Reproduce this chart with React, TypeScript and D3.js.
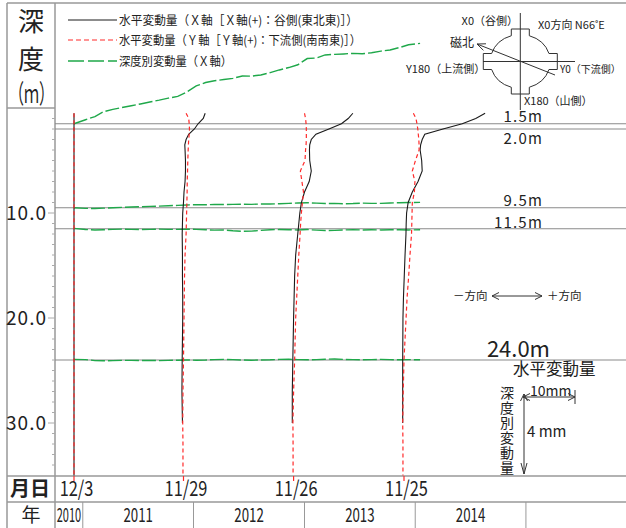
import React from 'react'
import * as d3 from 'd3'

const FONT = "'Noto Sans CJK JP', 'Noto Sans', sans-serif"

// survey dates of the inclinometer profiles
const surveyDates = ['2010-12-03', '2011-11-29', '2012-11-26', '2013-11-25']
const surveyLabels = ['12/3', '11/29', '11/26', '11/25']
const years = ['2010', '2011', '2012', '2013', '2014']

// depth (m) of profile readings
const depths = [0.5, 1, 1.5, 2, 2.5, 3, 3.5, 4, 5, 6, 7, 8, 9, 10, 11, 12, 14, 16, 18, 20, 24, 27, 30, 32, 35]

// horizontal displacement X (mm), null = no reading
const xDisp2010 = [0, 0, 0, 0, 0, 0, 0, 0, 0, 0, 0, 0, 0, 0, 0, 0, 0, 0, 0, 0, 0, 0, 0, 0, 0]
const xDisp2011 = [4.17, 3.8, 2.8, 2.1, 1.0, 0.5, 0.25, 0.3, 0.38, 0.38, 0.3, 0.1, 0, -0.15, -0.2, -0.25, -0.2, -0.2, -0.15, -0.15, -0.25, -0.3, -0.2, null, null]
const xDisp2012 = [11.4, 10.5, 9.2, 6.8, 4.3, 3.4, 3.1, 3.05, 3.1, 3.4, 3.0, 2.1, 1.5, 1.2, 1.0, 0.8, 0.4, 0.2, 0.1, 0, -0.15, -0.25, -0.25, null, null]
const xDisp2013 = [15.6, 13.8, 11.2, 7.5, 4.0, 3.5, 3.2, 3.1, 3.4, 3.5, 2.7, 1.6, 0.8, 0.5, 0.42, 0.38, 0.2, 0.05, -0.1, -0.2, -0.25, -0.25, -0.25, null, null]

// horizontal displacement Y (mm)
const yDisp2010 = [0, 0, 0, 0, 0, 0, 0, 0, 0, 0, 0, 0, 0, 0, 0, 0, 0, 0, 0, 0, 0, 0, 0, 0, 0]
const yDisp2011 = [0.5, 1.0, 1.1, 1.15, 1.1, 1.0, 0.95, 0.9, 0.83, 0.78, 0.72, 0.7, 0.65, 0.6, 0.55, 0.5, 0.3, 0.2, 0.15, 0.1, 0, -0.1, -0.15, -0.1, -0.1]
const yDisp2012 = [2.1, 2.3, 2.4, 2.45, 2.45, 2.45, 2.4, 2.3, 2.2, 1.3, 1.6, 1.9, 1.7, 1.5, 1.35, 1.25, 1.0, 0.8, 0.6, 0.4, 0.2, 0, -0.13, -0.1, -0.1]
const yDisp2013 = [1.8, 2.3, 2.5, 2.65, 2.75, 2.85, 2.9, 2.9, 2.2, 1.6, 2.1, 2.0, 1.6, 1.55, 1.5, 1.45, 1.15, 0.9, 0.6, 0.4, 0, -0.15, -0.25, -0.2, -0.2]

const xProfiles = [xDisp2010, xDisp2011, xDisp2012, xDisp2013]
const yProfiles = [yDisp2010, yDisp2011, yDisp2012, yDisp2013]

// monthly readings of depth-specific displacement (X axis)
const monthlyDates = [
  '2010-12-03', '2011-01-10', '2011-02-10', '2011-03-10', '2011-04-10', '2011-05-10', '2011-06-10',
  '2011-07-10', '2011-08-10', '2011-09-10', '2011-10-10', '2011-11-10', '2011-12-10', '2012-01-10',
  '2012-02-10', '2012-03-10', '2012-04-10', '2012-05-10', '2012-06-10', '2012-07-10', '2012-08-10',
  '2012-09-10', '2012-10-10', '2012-11-10', '2012-12-10', '2013-01-10', '2013-02-10', '2013-03-10',
  '2013-04-10', '2013-05-10', '2013-06-10', '2013-07-10', '2013-08-10', '2013-09-10', '2013-10-10',
  '2013-11-10', '2013-12-10', '2014-01-17',
]
const depth15 = [0, 0.2, 0.36, 0.6, 0.72, 0.81, 0.9, 0.99, 1.09, 1.18, 1.28, 1.37, 1.59, 1.89, 2.06, 2.15, 2.21, 2.27, 2.39, 2.38, 2.44, 2.56, 2.69, 2.81, 2.95, 3.26, 3.29, 3.44, 3.47, 3.49, 3.52, 3.5, 3.55, 3.63, 3.69, 3.81, 3.95, 4.02]
const depth95 = [0, -0.03, -0.04, -0.02, 0, 0.02, 0.04, 0.05, 0.07, 0.08, 0.1, 0.12, 0.14, 0.15, 0.15, 0.16, 0.16, 0.17, 0.18, 0.17, 0.19, 0.19, 0.2, 0.22, 0.24, 0.25, 0.23, 0.21, 0.22, 0.2, 0.21, 0.23, 0.22, 0.22, 0.24, 0.25, 0.26, 0.27]
const depth115 = [0.02, -0.04, -0.06, -0.05, -0.03, -0.02, -0.03, -0.04, -0.03, -0.02, -0.03, -0.03, -0.02, -0.03, -0.05, -0.07, -0.06, -0.1, -0.13, -0.12, -0.08, -0.05, -0.04, -0.05, -0.06, -0.04, -0.07, -0.09, -0.08, -0.06, -0.05, -0.06, -0.05, -0.06, -0.05, -0.05, -0.06, -0.05]
const depth240 = [0.03, 0.02, -0.03, -0.04, -0.03, -0.02, -0.02, -0.03, -0.02, -0.03, -0.02, -0.01, 0, -0.01, 0, 0.02, 0.03, 0.02, 0, -0.01, 0, 0.01, 0.03, 0.04, 0.02, 0.01, 0.02, 0.04, 0.05, 0.03, 0.02, 0.01, 0.02, 0.03, 0.02, 0.01, 0.02, 0.01]

const markDepths = [1.5, 2.0, 9.5, 11.5, 24.0]
const markLabels = ['1.5m', '2.0m', '9.5m', '11.5m', '24.0m']
const markLabelShift = [-2.2, 15, -2.2, -1.2] // baseline offset from the line
const greenSeries = [depth15, depth95, depth115, depth240]
const greenDepths = [1.5, 9.5, 11.5, 24.0]

const depthTicks = [10, 20, 30]

const parse = d3.timeParse('%Y-%m-%d')

const W = 626
const H = 528
const AX = 55 // left axis line
const ROW1 = 476
const ROW2 = 502

const BLACK = '#1a1a1a'
const RED = '#ff2b2b'
const GREEN = '#1fa84a'
const GRID = '#8a8a8a'

function App() {
  const x = d3.scaleTime()
    .domain([parse('2010-12-03')!, parse('2013-11-25')!])
    .range([74, 404])
  const y = d3.scaleLinear().domain([0, 35]).range([108, 475.5])
  const mm = d3.scaleLinear().domain([0, 10]).range([0, 52]) // horizontal mm
  const gmm = d3.scaleLinear().domain([0, 4]).range([0, 80]) // depth-specific mm (vertical)

  const profileLine = (base: number, vals: (number | null)[]) =>
    d3.line<number>()
      .defined((_, i) => vals[i] != null)
      .x((_, i) => base + mm(vals[i] as number))
      .y(d => y(d))(depths) || ''

  const greenLine = (depth: number, vals: number[]) =>
    d3.line<string>()
      .x(d => x(parse(d)!))
      .y((_, i) => y(depth) - gmm(vals[i]))(monthlyDates) || ''

  const yearStarts = years.map(yr => new Date(+yr, 0, 1))
  const yearEdges = [AX, ...yearStarts.slice(1).map(d => x(d)), x(d3.timeYear.offset(yearStarts[4], 1))]

  // compass
  const cx = 520.3, cy = 61.5
  const compass = 'M -9,-25.76 L -9,-32.5 L 9,-32.5 L 9,-25.76 A 30 27 0 0 1 28.66,-8 L 37,-8 L 37,8 L 28.66,8 ' +
    'A 30 27 0 0 1 9,25.76 L 9,32.5 L -9,32.5 L -9,25.76 A 30 27 0 0 1 -28.66,8 L -37,8 L -37,-8 L -28.66,-8 ' +
    'A 30 27 0 0 1 -9,-25.76 Z'
  const nTail = [555, 75], nHead = [477, 44]
  const ang = Math.atan2(nTail[1] - nHead[1], nTail[0] - nHead[0])
  const headPts = [-0.4, 0.4].map(a => [nHead[0] + 9 * Math.cos(ang + a), nHead[1] + 9 * Math.sin(ang + a)])

  const txt = { fontFamily: FONT, fill: '#222' }

  return (
    <svg width={W} height={H} style={{ position: 'absolute', left: 0, top: 0, display: 'block', background: '#fff' }}>
      {/* frame */}
      <g stroke="#999" strokeWidth={1.5} fill="none">
        <line x1={7} y1={3} x2={W} y2={3} />
        <line x1={7} y1={3} x2={7} y2={H} />
        <line x1={AX} y1={3} x2={AX} y2={H} />
        <line x1={7} y1={108} x2={AX} y2={108} />
        <line x1={7} y1={ROW1} x2={W} y2={ROW1} />
        <line x1={7} y1={ROW2} x2={W} y2={ROW2} />
        {yearEdges.slice(1).map((e, i) => <line key={i} x1={e} y1={ROW2} x2={e} y2={H} strokeWidth={1} />)}
      </g>

      {/* header of depth column */}
      <text x={31} y={31} textAnchor="middle" fontSize={26} {...txt}>深</text>
      <text x={31} y={69} textAnchor="middle" fontSize={26} {...txt}>度</text>
      <text x={9} y={103} fontSize={26} textLength={45} lengthAdjust="spacingAndGlyphs" {...txt}>（ｍ）</text>

      {/* depth ticks */}
      <g stroke="#aaa" strokeWidth={1}>
        {d3.range(1, 35).map(d => (
          <line key={d} x1={AX - (d % 10 === 0 ? 7 : 3)} x2={AX} y1={y(d)} y2={y(d)} />
        ))}
      </g>
      {depthTicks.map(d => (
        <text key={d} x={47} y={y(d) + 7} textAnchor="end" fontSize={19} letterSpacing={1} {...txt}>{d.toFixed(1)}</text>
      ))}

      {/* marked depth lines */}
      {markDepths.map((d, i) => (
        <line key={i} x1={AX} x2={W} y1={y(d)} y2={y(d)} stroke={GRID} strokeWidth={1.2} />
      ))}
      {markLabels.slice(0, 4).map((l, i) => (
        <text key={l} x={543} y={y(markDepths[i]) + markLabelShift[i]} textAnchor="end" fontSize={15} letterSpacing={1.2} {...txt}>{l}</text>
      ))}
      <text x={550} y={357} textAnchor="end" fontSize={22} {...txt}>{markLabels[4]}</text>

      {/* depth-specific displacement */}
      {greenDepths.map((d, i) => (
        <path key={i} d={greenLine(d, greenSeries[i])} fill="none" stroke={GREEN} strokeWidth={1.4} strokeDasharray="14,3" />
      ))}

      {/* profiles */}
      {surveyDates.map((sd, i) => {
        const base = x(parse(sd)!)
        return (
          <g key={sd}>
            <path d={profileLine(base, xProfiles[i])} fill="none" stroke={BLACK} strokeWidth={1.1} />
            <path d={profileLine(base, yProfiles[i])} fill="none" stroke={RED} strokeWidth={1.2} strokeDasharray="4,3" />
            <line x1={base} x2={base} y1={ROW1} y2={ROW1 + 5} stroke={RED} strokeWidth={1.2} />
          </g>
        )
      })}

      {/* legend */}
      <line x1={68} x2={117} y1={20} y2={20} stroke={BLACK} strokeWidth={1} />
      <line x1={68} x2={117} y1={40} y2={40} stroke={RED} strokeWidth={1.2} strokeDasharray="5,3" />
      <line x1={68} x2={117} y1={61} y2={61} stroke={GREEN} strokeWidth={1.4} strokeDasharray="16,4" />
      <text x={119} y={25} fontSize={12.5} textLength={239} lengthAdjust="spacingAndGlyphs" {...txt}>水平変動量（Ｘ軸［Ｘ軸(+)：谷側(東北東)］）</text>
      <text x={119} y={45} fontSize={12.5} textLength={242} lengthAdjust="spacingAndGlyphs" {...txt}>水平変動量（Ｙ軸［Ｙ軸(+)：下流側(南南東)］）</text>
      <text x={119} y={66} fontSize={12.5} textLength={113} lengthAdjust="spacingAndGlyphs" {...txt}>深度別変動量（Ｘ軸）</text>

      {/* compass */}
      <g stroke="#333" fill="none" strokeWidth={1}>
        <path d={compass} transform={`translate(${cx},${cy})`} />
        <line x1={cx} x2={cx} y1={13} y2={110} />
        <line x1={483} x2={575} y1={cy} y2={cy} />
        <line x1={nTail[0]} y1={nTail[1]} x2={nHead[0]} y2={nHead[1]} />
        {headPts.map((p, i) => <line key={i} x1={nHead[0]} y1={nHead[1]} x2={p[0]} y2={p[1]} />)}
      </g>
      <text x={518} y={25} textAnchor="end" fontSize={11} {...txt}>X0（谷側）</text>
      <text x={538} y={29} fontSize={11} {...txt}>X0方向 N66˚E</text>
      <text x={450} y={47} fontSize={12} {...txt}>磁北</text>
      <text x={406} y={73} fontSize={11} {...txt}>Y180（上流側）</text>
      <text x={560} y={73} fontSize={10} {...txt}>Y0（下流側）</text>
      <text x={524} y={105} fontSize={11} {...txt}>X180（山側）</text>

      {/* direction note */}
      <text x={453} y={300} fontSize={11.5} {...txt}>－方向</text>
      <text x={547} y={300} fontSize={11.5} {...txt}>＋方向</text>
      <g stroke="#333" strokeWidth={1} fill="none">
        <line x1={492} x2={542} y1={296} y2={296} />
        <polyline points="499,292.5 492,296 499,299.5" />
        <polyline points="535,292.5 542,296 535,299.5" />
      </g>

      {/* scale legend */}
      <text x={513} y={375} fontSize={16.5} {...txt}>水平変動量</text>
      <text x={530} y={396} fontSize={14} {...txt}>10mm</text>
      <text x={527} y={437} fontSize={15} {...txt}>4 mm</text>
      <text x={507} y={386} fontSize={14} letterSpacing={1} style={{ writingMode: 'vertical-rl' }} {...txt}>深度別変動量</text>
      <g stroke="#333" strokeWidth={1} fill="none">
        <line x1={523} x2={523 + mm(10)} y1={397} y2={397} />
        <polyline points="530,393.5 523,397 530,400.5" />
        <polyline points={`${516 + mm(10)},393.5 ${523 + mm(10)},397 ${516 + mm(10)},400.5`} />
        <line x1={523 + mm(10)} x2={523 + mm(10)} y1={390} y2={404} />
        <line x1={524} x2={524} y1={474 - gmm(4)} y2={474} />
        <polyline points={`520.5,${481 - gmm(4)} 524,${474 - gmm(4)} 527.5,${481 - gmm(4)}`} />
        <polyline points="521,463 524,474 527,463" />
      </g>

      {/* time axis */}
      <text x={10} y={496} fontSize={20} fontWeight={700} {...txt}>月日</text>
      <text x={31} y={522} textAnchor="middle" fontSize={19} {...txt}>年</text>
      {surveyDates.map((sd, i) => {
        const px = x(parse(sd)!) + 2.5
        return (
          <text key={sd} transform={`translate(${px},496) scale(0.78,1)`} textAnchor="middle" fontSize={21} {...txt}>{surveyLabels[i]}</text>
        )
      })}
      {years.map((yr, i) => {
        const cxy = (yearEdges[i] + yearEdges[i + 1]) / 2
        const sx = i === 0 ? 0.58 : 0.7
        return (
          <text key={yr} transform={`translate(${cxy},522) scale(${sx},1)`} textAnchor="middle" fontSize={19} {...txt}>{yr}</text>
        )
      })}
    </svg>
  )
}

export default App
